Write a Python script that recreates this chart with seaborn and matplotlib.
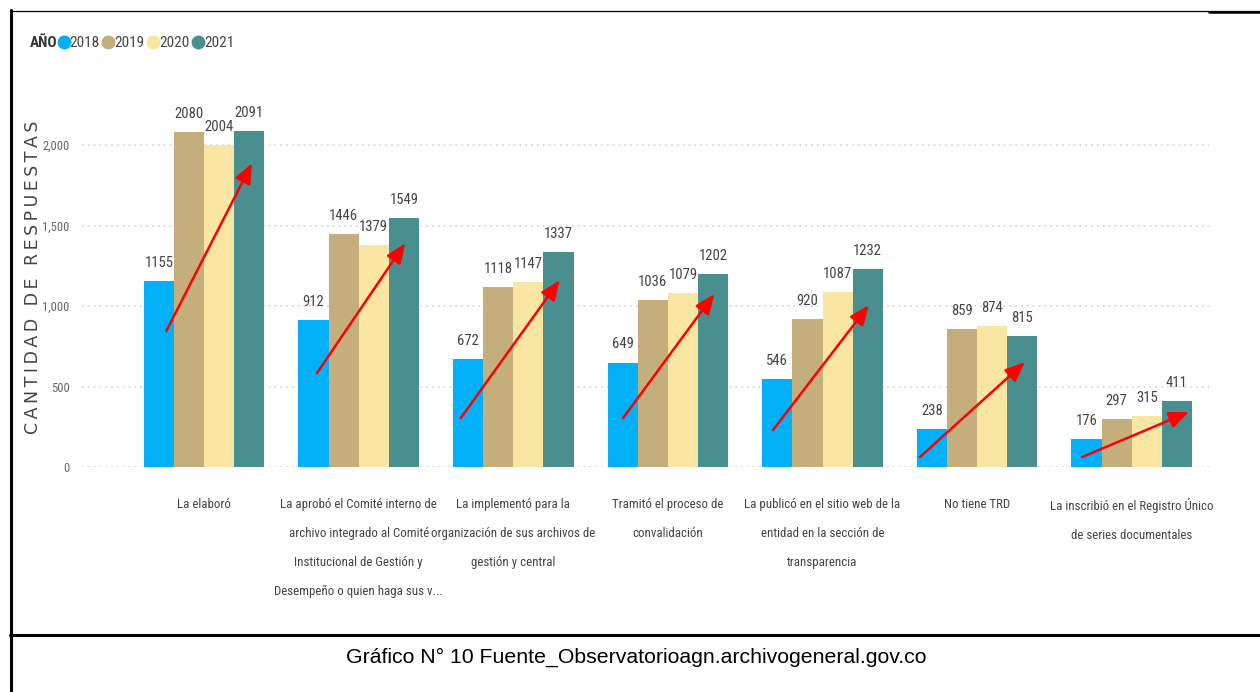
import matplotlib
matplotlib.use("Agg")
import matplotlib.pyplot as plt
from matplotlib import font_manager
from matplotlib.lines import Line2D
import seaborn as sns
import pandas as pd

# ---------------- data ----------------
categories = [
    "La elaboró",
    "La aprobó el Comité interno de\narchivo integrado al Comité\nInstitucional de Gestión y\nDesempeño o quien haga sus v...",
    "La implementó para la\norganización de sus archivos de\ngestión y central",
    "Tramitó el proceso de\nconvalidación",
    "La publicó en el sitio web de la\nentidad en la sección de\ntransparencia",
    "No tiene TRD",
    "La inscribió en el Registro Único\nde series documentales",
]
years = ["2018", "2019", "2020", "2021"]
v2018 = [1155, 912, 672, 649, 546, 238, 176]
v2019 = [2080, 1446, 1118, 1036, 920, 859, 297]
v2020 = [2004, 1379, 1147, 1079, 1087, 874, 315]
v2021 = [2091, 1549, 1337, 1202, 1232, 815, 411]
yticks = [0, 500, 1000, 1500, 2000]
ytick_labels = ["0", "500", "1,000", "1,500", "2,000"]

# red trend arrows (annotation values)
arrow_x0 = [-0.245, -0.27, -0.34, -0.29, -0.32, -0.37, -0.32]
arrow_x1 = [0.31, 0.30, 0.30, 0.30, 0.30, 0.31, 0.37]
arrow_y0 = [845, 584, 304, 304, 230, 62, 62]
arrow_y1 = [1888, 1391, 1161, 1075, 1006, 652, 342]

colors = ["#01B0F7", "#C4AE7B", "#F8E6A2", "#4A8F90"]

# ---------------- fonts ----------------
names = {f.name for f in font_manager.fontManager.ttflist}
NARROW = "DejaVu Sans"
for cand in ["Roboto Condensed", "PT Sans Narrow", "Liberation Sans Narrow"]:
    if cand in names:
        NARROW = cand
        break
CAPTION = "Liberation Sans" if "Liberation Sans" in names else "DejaVu Sans"

sns.set_theme(style="white")

df = pd.DataFrame({
    "cat": categories * 4,
    "year": sum([[y] * len(categories) for y in years], []),
    "val": v2018 + v2019 + v2020 + v2021,
})

fig = plt.figure(figsize=(12.6, 6.92), dpi=100)
ax = fig.add_axes([82 / 1260, 1 - 467 / 692, (1209 - 82) / 1260, (467 - 97) / 692])

sns.barplot(data=df, x="cat", y="val", hue="year", palette=colors, width=0.78,
            linewidth=0, saturation=1, ax=ax, legend=False, errorbar=None)

ax.set_xlim(-0.79, 6.5)
ax.set_ylim(0, 2300)
for s in ax.spines.values():
    s.set_visible(False)
ax.set_yticks(yticks)
ax.set_yticklabels(ytick_labels, color="#666666", fontsize=9, family=NARROW)
ax.tick_params(axis="y", length=0, pad=9)
ax.tick_params(axis="x", length=0, pad=22)
ax.set_xticks(range(len(categories)))
ax.set_xticklabels(categories, color="#444444", fontsize=9.3, linespacing=2.6, family=NARROW)
ax.set_xlabel("")
ax.set_ylabel("")
for yv in yticks:
    ax.axhline(yv, color="#d4d4d4", lw=1.2, ls=(0, (1, 2.5)), zorder=0)
ax.set_axisbelow(True)

for cont in ax.containers:
    ax.bar_label(cont, fmt="%d", padding=8, color="#444444", fontsize=10.5, family=NARROW)

for i in range(len(categories)):
    ax.annotate("", xy=(i + arrow_x1[i], arrow_y1[i]), xytext=(i + arrow_x0[i], arrow_y0[i]),
                arrowprops=dict(arrowstyle="-|>,head_length=0.6,head_width=0.25",
                                color="#FF0000", lw=1.8, mutation_scale=20,
                                shrinkA=0, shrinkB=0), zorder=5)

# y label (letter spaced)
ylab = "\u2009".join(list("CANTIDAD DE RESPUESTAS"))
fig.text(33 / 1260, 1 - 277 / 692, ylab, rotation=90, ha="center", va="center",
         color="#444444", fontsize=12.5, family="DejaVu Sans")

# legend
fig.text(30 / 1260, 1 - 43 / 692, "AÑO", ha="left", va="center", color="#333333",
         fontsize=11, fontweight="bold", family=NARROW)
handles = [Line2D([0], [0], marker="o", ls="", markersize=9, markerfacecolor=c,
                  markeredgecolor=c) for c in colors]
leg = fig.legend(handles, years, loc="center left", bbox_to_anchor=(59 / 1260, 1 - 43 / 692),
                 ncol=4, frameon=False, handlelength=0.6, handletextpad=0.1,
                 columnspacing=0.25, borderaxespad=0, borderpad=0,
                 prop=dict(size=11, family=NARROW))
for t in leg.get_texts():
    t.set_color("#444444")

# frame lines of the document table
def fline(x0, y0, x1, y1, lw):
    fig.add_artist(Line2D([x0 / 1260, x1 / 1260], [1 - y0 / 692, 1 - y1 / 692],
                          color="black", lw=lw, transform=fig.transFigure))

fline(10, 11, 1260, 11, 0.9)
fline(1209, 11.5, 1260, 11.5, 1.8)
fline(11, 10, 11, 692, 2.2)
fline(10, 635, 1260, 635, 2.2)

fig.text(636 / 1260, 1 - 657 / 692, "Gráfico N° 10 Fuente_Observatorioagn.archivogeneral.gov.co",
         ha="center", va="center", color="black", fontsize=15.3, family=CAPTION)

fig.savefig("out.png", dpi=100)
